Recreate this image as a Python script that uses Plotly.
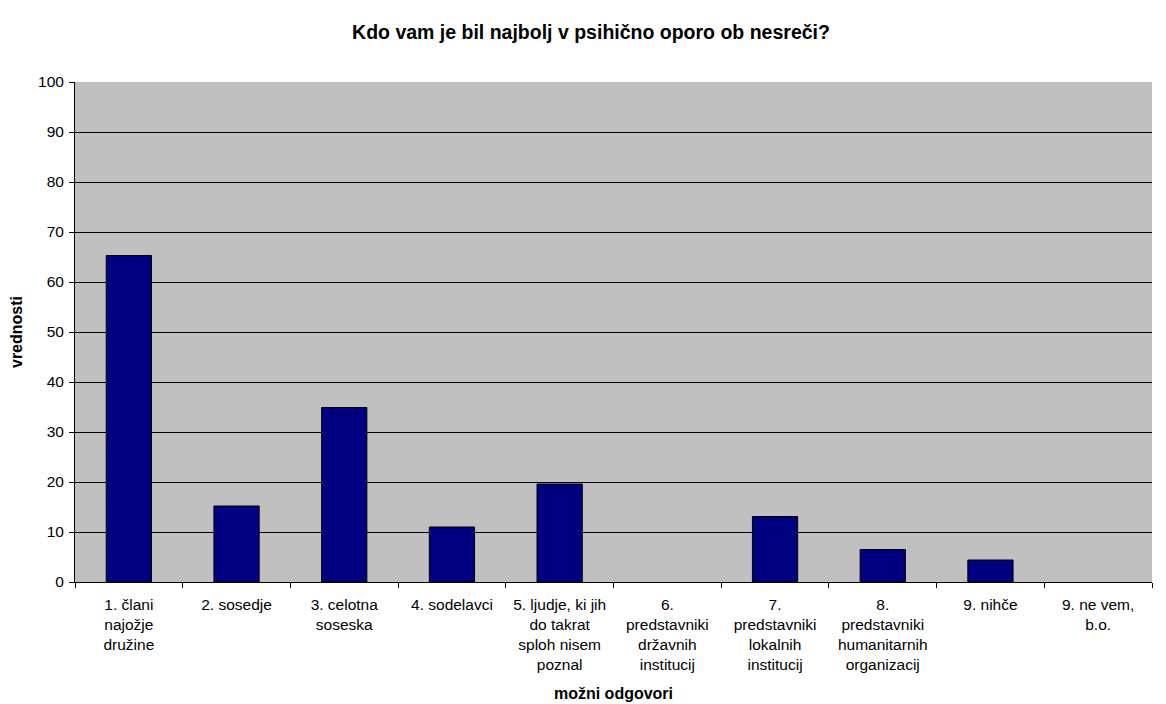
import plotly.graph_objects as go

categories = [
    "1. člani<br>najožje<br>družine",
    "2. sosedje",
    "3. celotna<br>soseska",
    "4. sodelavci",
    "5. ljudje, ki jih<br>do takrat<br>sploh nisem<br>poznal",
    "6.<br>predstavniki<br>državnih<br>institucij",
    "7.<br>predstavniki<br>lokalnih<br>institucij",
    "8.<br>predstavniki<br>humanitarnih<br>organizacij",
    "9. nihče",
    "9. ne vem,<br>b.o.",
]
values = [65.3, 15.2, 34.9, 11.0, 19.6, 0, 13.1, 6.5, 4.4, 0]
y_ticks = [0, 10, 20, 30, 40, 50, 60, 70, 80, 90, 100]

font_family = "Liberation Sans, Arial, sans-serif"

fig = go.Figure(
    go.Bar(
        x=categories,
        y=values,
        marker=dict(
            color="#000080",
            line=dict(color="#000000", width=[1 if v > 0 else 0 for v in values]),
        ),
    )
)

fig.update_layout(
    width=1166,
    height=704,
    margin=dict(l=67, r=22, t=74, b=130),
    paper_bgcolor="white",
    plot_bgcolor="#C0C0C0",
    bargap=0.58,
    showlegend=False,
    font=dict(family=font_family, size=15.5, color="black"),
    title=dict(
        text="<b>Kdo vam je bil najbolj v psihično oporo ob nesreči?</b>",
        x=0.5,
        xanchor="center",
        xref="container",
        y=1 - 24 / 704,
        yanchor="middle",
        font=dict(family=font_family, size=19.5, color="black"),
    ),
)

fig.update_xaxes(
    type="category",
    automargin=False,
    showline=True,
    linecolor="black",
    linewidth=1,
    ticks="outside",
    tickson="boundaries",
    ticklen=5,
    tickcolor="black",
    tickangle=0,
    ticklabelstandoff=8,
    showgrid=False,
    tickfont=dict(family=font_family, size=15.5),
    title=dict(text="<b>možni odgovori</b>", font=dict(family=font_family, size=16), standoff=15),
)

fig.update_yaxes(
    range=[0, 100],
    automargin=False,
    tickvals=y_ticks,
    showline=True,
    linecolor="black",
    linewidth=1,
    ticks="outside",
    ticklen=5,
    tickcolor="black",
    ticklabelstandoff=2,
    showgrid=True,
    gridcolor="black",
    gridwidth=1,
    zeroline=False,
    tickfont=dict(family=font_family, size=15.5),
    title=dict(text="<b>vrednosti</b>", font=dict(family=font_family, size=16), standoff=12),
)

fig.write_html("out.html")
